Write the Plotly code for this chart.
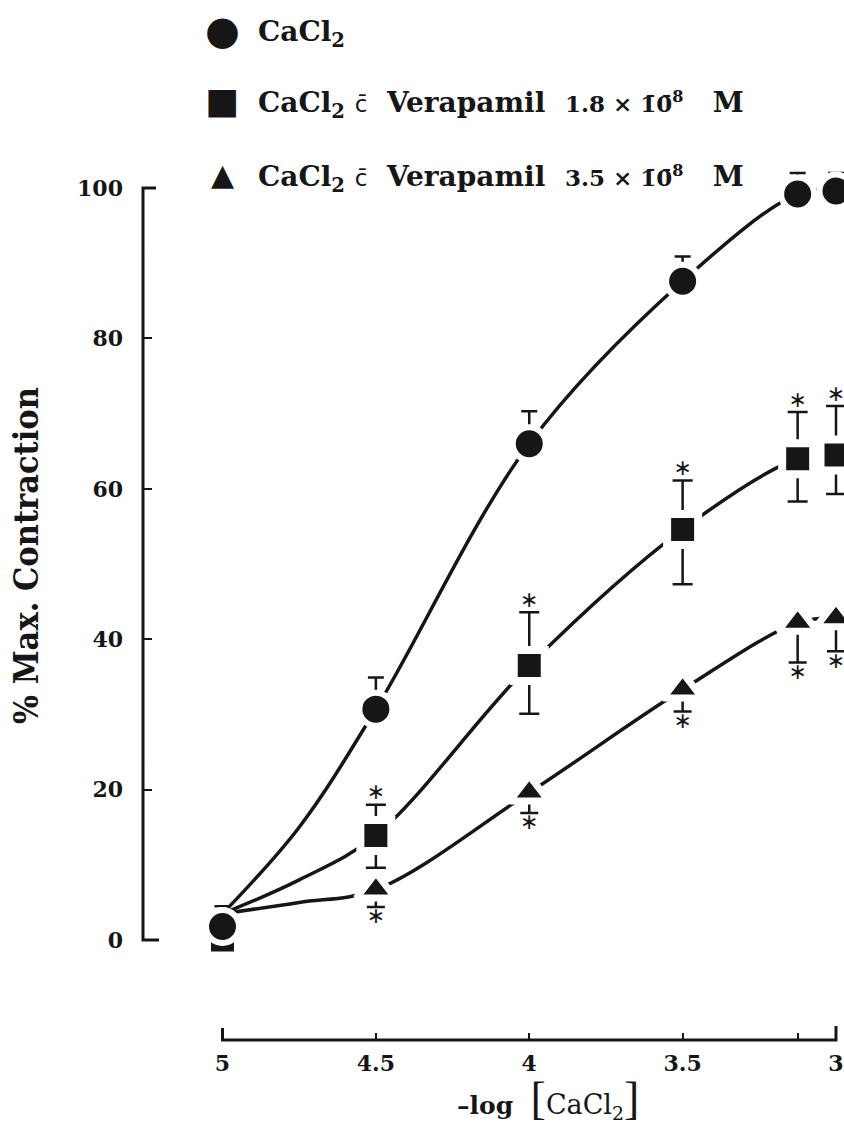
import plotly.graph_objects as go

# -log[CaCl2] concentrations tested
log_conc = [5, 4.5, 4, 3.5, 3.125, 3]

# CaCl2 alone: mean % of maximal contraction and SEM (upper bar only)
cacl2_mean = [1.8, 30.7, 66.0, 87.6, 99.2, 99.6]
cacl2_sem = [2.7, 4.2, 4.3, 3.3, 2.8, 2.4]

# CaCl2 with verapamil 1.8e-8 M: mean and SEM (bars both ways)
vera18_mean = [0.0, 13.9, 36.5, 54.6, 64.0, 64.5]
vera18_sem_up = [0.0, 4.1, 7.1, 6.5, 6.2, 6.5]
vera18_sem_down = [1.8, 4.3, 6.4, 7.3, 5.7, 5.2]
vera18_signif = [False, True, True, True, True, True]

# CaCl2 with verapamil 3.5e-8 M: mean and SEM (lower bar only)
vera35_mean = [1.0, 6.7, 19.6, 33.3, 42.2, 42.8]
vera35_sem_down = [0.0, 2.3, 2.7, 2.9, 5.3, 4.4]
vera35_signif = [False, True, True, True, True, True]

# fitted concentration-response curves
fit_x = [5, 4.75, 4.5, 4, 3.5, 3.125, 3]
cacl2_fit = [3.5, 15.0, 30.7, 66.0, 87.6, 99.2, 99.6]
vera18_fit = [3.5, 8.0, 13.9, 36.5, 54.6, 64.0, 64.5]
vera35_fit = [3.5, 5.0, 6.7, 19.6, 33.3, 42.2, 42.8]

x_tickvals = [5, 4.5, 4, 3.5, 3.125, 3]
x_ticktext = ["5", "4.5", "4", "3.5", "", "3"]
y_tickvals = [0, 20, 40, 60, 80, 100]

legend_symbols = ["\u25cf", "\u25a0", "\u25b2"]
legend_labels = [
    "CaCl<sub>2</sub>",
    "CaCl<sub>2</sub> {c}\u00a0 Verapamil\u00a0\u00a0{n}",
    "CaCl<sub>2</sub> {c}\u00a0 Verapamil\u00a0\u00a0{n}",
]
legend_conc = ["", "1.8", "3.5"]

INK = "#161616"
SERIF = "DejaVu Serif"

# ---- page geometry (pixels) ----
W, H = 844, 1124
X5_PX, X3_PX = 222.5, 836.0      # x = 5 and x = 3
Y0_PX, Y100_PX = 940.0, 188.0    # y = 0 and y = 100
YAXIS_PX = 143.0
XAXIS_PX = 1040.0

x_scale = (X3_PX - X5_PX) / (3 - 5)
x_lo, x_hi = 5.2, 3 + (W - X3_PX) / x_scale
x_dom = [(X5_PX + (x_lo - 5) * x_scale) / W, 1.0]

y_scale = (Y0_PX - Y100_PX) / 100.0
y_lo, y_hi = -10.0, 110.0
y_dom = [(H - (Y0_PX + 10 * y_scale)) / H, (H - (Y100_PX - 10 * y_scale)) / H]

fig = go.Figure()

# curves first so the white marker halos open a gap around each point
for fy in (cacl2_fit, vera18_fit, vera35_fit):
    fig.add_trace(go.Scatter(
        x=fit_x, y=fy, mode="lines", showlegend=False, hoverinfo="skip",
        line=dict(color=INK, width=3.5, shape="spline", smoothing=1.0),
        cliponaxis=False,
    ))

zeros = [0.0] * len(log_conc)

fig.add_trace(go.Scatter(
    x=log_conc, y=vera35_mean, mode="markers", showlegend=False, cliponaxis=False,
    marker=dict(symbol="triangle-up", size=34, color=INK,
                line=dict(color="white", width=7)),
    error_y=dict(type="data", symmetric=False, array=zeros, arrayminus=vera35_sem_down,
                 color=INK, thickness=2.5, width=9),
))
fig.add_trace(go.Scatter(
    x=log_conc, y=vera18_mean, mode="markers", showlegend=False, cliponaxis=False,
    marker=dict(symbol="square", size=31, color=INK,
                line=dict(color="white", width=8)),
    error_y=dict(type="data", symmetric=False, array=vera18_sem_up,
                 arrayminus=vera18_sem_down, color=INK, thickness=2.5, width=10),
))
fig.add_trace(go.Scatter(
    x=log_conc, y=cacl2_mean, mode="markers", showlegend=False, cliponaxis=False,
    marker=dict(symbol="circle", size=33, color=INK,
                line=dict(color="white", width=6)),
    error_y=dict(type="data", symmetric=False, array=cacl2_sem, arrayminus=zeros,
                 color=INK, thickness=2.5, width=8),
))

# significance asterisks: above the upper bar / below the lower bar
sx18 = [x for x, s in zip(log_conc, vera18_signif) if s]
sy18 = [m + e for m, e, s in zip(vera18_mean, vera18_sem_up, vera18_signif) if s]
sx35 = [x for x, s in zip(log_conc, vera35_signif) if s]
sy35 = [m - e for m, e, s in zip(vera35_mean, vera35_sem_down, vera35_signif) if s]
for sx, sy, pos in ((sx18, sy18, "top center"), (sx35, sy35, "bottom center")):
    fig.add_trace(go.Scatter(
        x=sx, y=sy, mode="text", text=["\u2217"] * len(sx), textposition=pos,
        textfont=dict(family="DejaVu Sans", size=22, color=INK),
        showlegend=False, cliponaxis=False, hoverinfo="skip",
    ))

# axis brackets: long end ticks joined by the axis line
x_first, x_last = x_tickvals[0], x_tickvals[-1]
xb = (H - XAXIS_PX) / H
shapes = [
    dict(type="path", xref="x", yref="paper", layer="above",
         path=f"M {x_first},{xb + 12 / H} L {x_first},{xb} L {x_last},{xb} L {x_last},{xb + 14 / H}",
         line=dict(color=INK, width=3)),
]
ya = YAXIS_PX / W
y_first, y_last = y_tickvals[0], y_tickvals[-1]
shapes.append(
    dict(type="path", xref="paper", yref="y", layer="above",
         path=f"M {ya + 16 / W},{y_first} L {ya},{y_first} L {ya},{y_last} L {ya + 13 / W},{y_last}",
         line=dict(color=INK, width=3)),
)

# legend rows: symbol + label
cbar = "<span style='font-family:DejaVu Sans;font-weight:normal;font-size:23px'>c\u0304</span>"
legend_row_px = [30, 101, 174]
symbol_size = [40, 36, 30]
annotations = []
for sym, lab, conc, ypx, ss in zip(legend_symbols, legend_labels, legend_conc, legend_row_px, symbol_size):
    num = (f"<span style='font-size:23px'>{conc}\u00a0\u00d7\u00a01\u03040\u0304<sup>8</sup></span>"
           f"\u00a0\u00a0\u00a0M") if conc else ""
    annotations.append(dict(
        text=sym, x=222 / W, y=(H - ypx) / H, xref="paper", yref="paper",
        xanchor="center", yanchor="middle", showarrow=False,
        font=dict(family="DejaVu Sans", size=ss, color=INK),
    ))
    annotations.append(dict(
        text=lab.format(c=cbar, n=num), x=256 / W, y=(H - ypx - 4) / H,
        xref="paper", yref="paper", xanchor="left", yanchor="middle", showarrow=False,
        font=dict(family=SERIF, size=28, color=INK, weight="bold"),
    ))

annotations.append(dict(
    text="% Max. Contraction", textangle=-90,
    x=26 / W, y=(H - 556) / H, xref="paper", yref="paper",
    xanchor="center", yanchor="middle", showarrow=False,
    font=dict(family="DejaVu Serif Condensed, DejaVu Serif", size=34, color=INK, weight="bold"),
))
annotations.append(dict(
    text="\u2013log\u00a0\u00a0<span style='font-size:46px;font-weight:normal;font-family:Liberation Serif'>[</span>"
         "<span style='font-weight:normal;font-size:27px'>CaCl<sub>2</sub></span>"
         "<span style='font-size:46px;font-weight:normal;font-family:Liberation Serif'>]</span>",
    x=548 / W, y=-2 / H, xref="paper", yref="paper",
    xanchor="center", yanchor="bottom", showarrow=False,
    font=dict(family=SERIF, size=25, color=INK, weight="bold"),
))

tickfont = dict(family=SERIF, size=22, color=INK, weight="bold")

fig.update_layout(
    width=W, height=H,
    margin=dict(l=0, r=0, t=0, b=0),
    paper_bgcolor="white", plot_bgcolor="white",
    showlegend=False,
    xaxis=dict(
        domain=x_dom, range=[x_lo, x_hi], autorange=False,
        anchor="free", position=xb,
        showline=False,
        ticks="inside", ticklen=7, tickwidth=2, tickcolor=INK,
        tickmode="array", tickvals=x_tickvals, ticktext=x_ticktext,
        tickfont=tickfont, ticklabelstandoff=8,
        showgrid=False, zeroline=False,
    ),
    yaxis=dict(
        domain=y_dom, range=[y_lo, y_hi], autorange=False,
        anchor="free", position=ya,
        showline=False,
        ticks="inside", ticklen=8, tickwidth=2, tickcolor=INK,
        tickmode="array", tickvals=y_tickvals,
        tickfont=tickfont, ticklabelstandoff=20,
        showgrid=False, zeroline=False,
    ),
    shapes=shapes,
    annotations=annotations,
)

fig.write_html("out.html")
